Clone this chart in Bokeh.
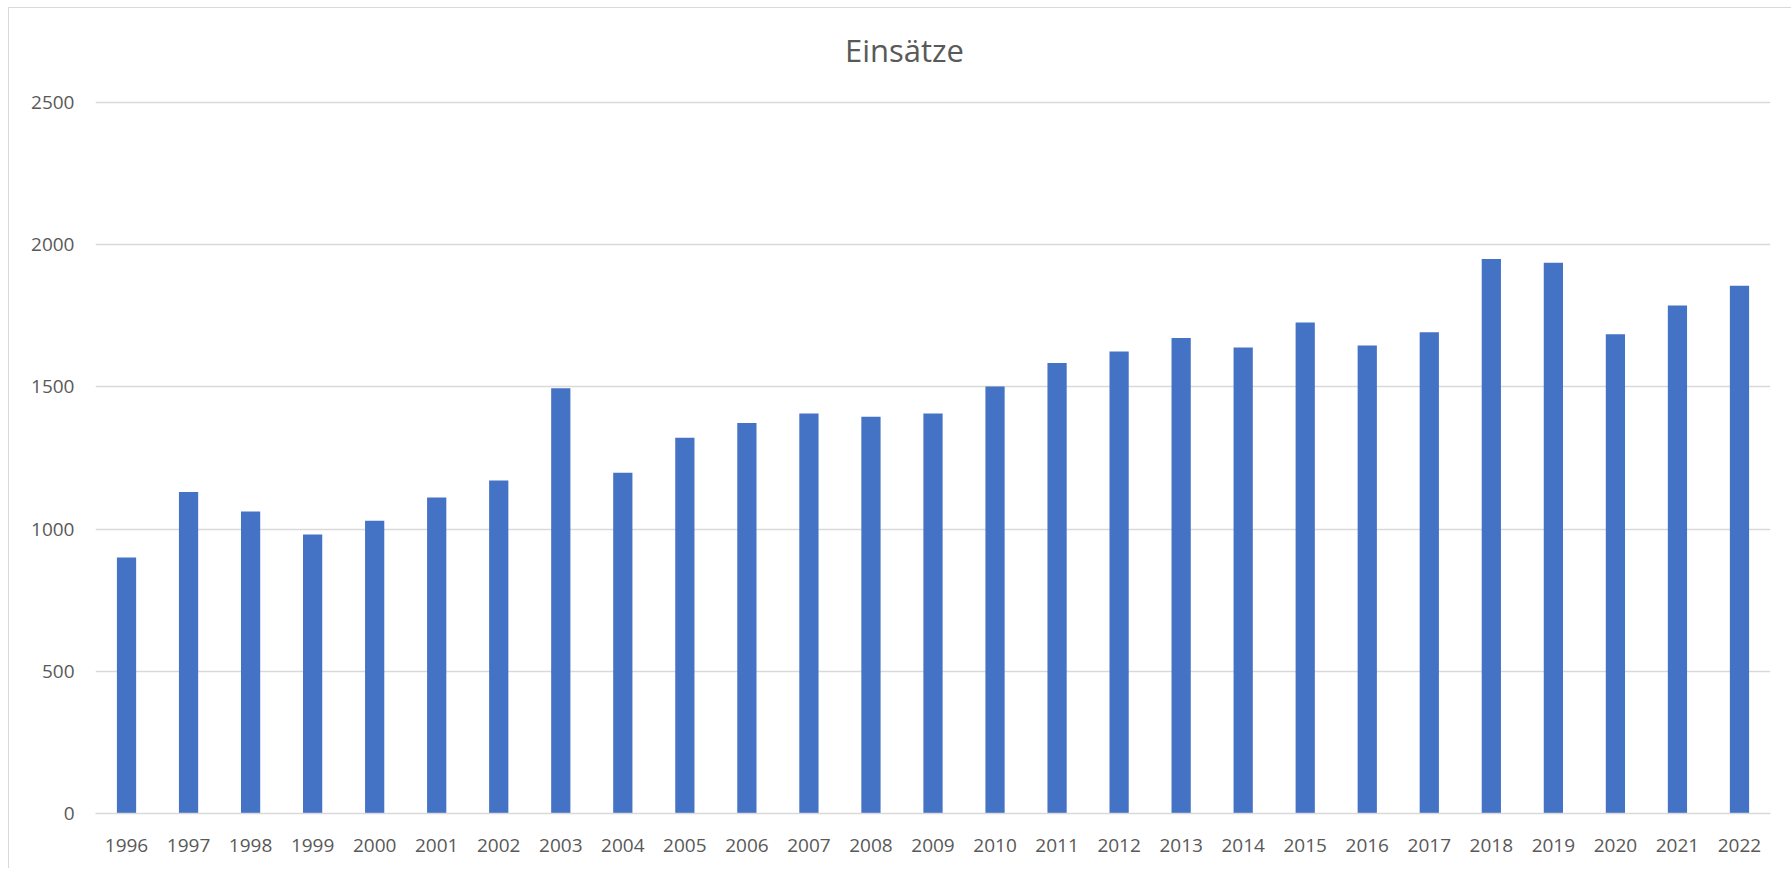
from bokeh.plotting import figure
from bokeh.models import ColumnDataSource, FactorRange, Range1d, FixedTicker, Label
from bokeh.embed import file_html
from bokeh.resources import INLINE

years = [str(y) for y in range(1996, 2023)]
einsaetze = [900, 1130, 1062, 981, 1029, 1111, 1171, 1495, 1198, 1321, 1373, 1406, 1395, 1406,
             1501, 1584, 1624, 1672, 1638, 1726, 1645, 1692, 1949, 1936, 1685, 1786, 1855]
y_ticks = [0, 500, 1000, 1500, 2000, 2500]
title_text = "Einsätze"

FONT = "Open Sans"
GREY = "#595959"
GRID = "#d9d9d9"

src = ColumnDataSource(dict(year=years, value=einsaetze))

# the frame reaches up to the top of the chart area so the title can sit inside it
p = figure(x_range=FactorRange(*years, range_padding=0), y_range=Range1d(0, 2830),
           width=1783, height=861, output_backend="svg", toolbar_location=None,
           min_border_left=86, min_border_right=22, min_border_top=0, min_border_bottom=56)
p.styles = {"border-top": "1px solid #d9d9d9", "border-left": "1px solid #d9d9d9",
            "margin-left": "8px", "margin-top": "7px"}
p.outline_line_color = None
p.background_fill_color = "white"
p.border_fill_color = "white"

p.vbar(x="year", top="value", width=0.31, source=src, fill_color="#4472C4", line_color=None)

p.add_layout(Label(x=13.04, y=2683, text=title_text, text_align="center",
                   text_baseline="middle", text_font=FONT, text_font_size="31px",
                   text_color=GREY))

p.xgrid.grid_line_color = None
p.ygrid.grid_line_color = GRID
p.ygrid.grid_line_width = 1.3
p.yaxis.ticker = FixedTicker(ticks=y_ticks)

for ax in (p.xaxis, p.yaxis):
    ax.major_tick_line_color = None
    ax.minor_tick_line_color = None
    ax.major_tick_out = 0
    ax.major_tick_in = 0
    ax.major_label_text_font = FONT
    ax.major_label_text_font_size = "19px"
    ax.major_label_text_color = GREY
p.yaxis.axis_line_color = None
p.xaxis.axis_line_color = GRID
p.xaxis.axis_line_width = 1.3
p.yaxis.major_label_standoff = 21
p.xaxis.major_label_standoff = 25

open("out.html", "w").write(file_html(p, INLINE))
